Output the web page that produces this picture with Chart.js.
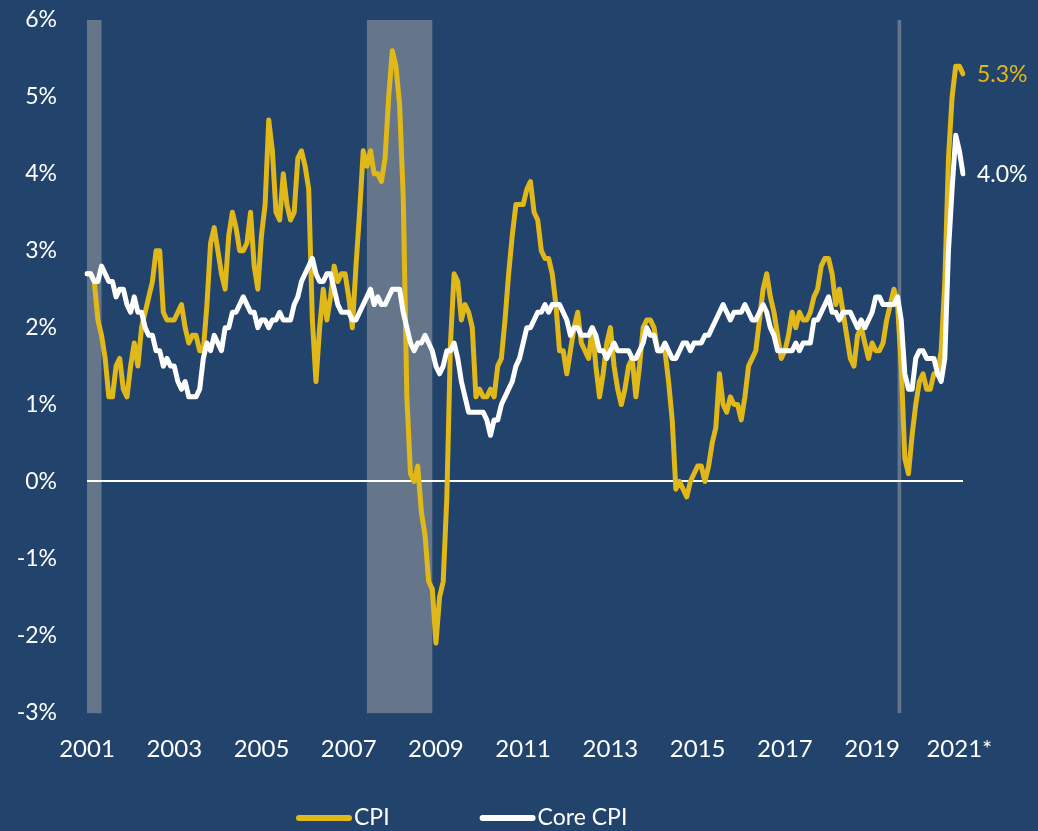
<!DOCTYPE html>
<html>
<head>
<meta charset="utf-8">
<script src="https://cdn.jsdelivr.net/npm/chart.js@4"></script>
<style>
  html, body { margin: 0; padding: 0; background: #22436B; }
  canvas { display: block; }
</style>
</head>
<body>
<canvas id="chart" width="1038" height="831"></canvas>
<script>
// monthly year-over-year change, Jul 2001 .. Aug 2021
const START_YEAR = 2001, START_MONTH = 7;

const cpi = [
  2.7, 2.7, 2.6, 2.1, 1.9, 1.6,
  1.1, 1.1, 1.5, 1.6, 1.2, 1.1, 1.5, 1.8, 1.5, 2.0, 2.2, 2.4,
  2.6, 3.0, 3.0, 2.2, 2.1, 2.1, 2.1, 2.2, 2.3, 2.0, 1.8, 1.9,
  1.9, 1.7, 1.7, 2.3, 3.1, 3.3, 3.0, 2.7, 2.5, 3.2, 3.5, 3.3,
  3.0, 3.0, 3.1, 3.5, 2.8, 2.5, 3.2, 3.6, 4.7, 4.3, 3.5, 3.4,
  4.0, 3.6, 3.4, 3.5, 4.2, 4.3, 4.1, 3.8, 2.1, 1.3, 2.0, 2.5,
  2.1, 2.4, 2.8, 2.6, 2.7, 2.7, 2.4, 2.0, 2.8, 3.5, 4.3, 4.1,
  4.3, 4.0, 4.0, 3.9, 4.2, 5.0, 5.6, 5.4, 4.9, 3.7, 1.1, 0.1,
  0.0, 0.2, -0.4, -0.7, -1.3, -1.4, -2.1, -1.5, -1.3, -0.2, 1.8, 2.7,
  2.6, 2.1, 2.3, 2.2, 2.0, 1.1, 1.2, 1.1, 1.1, 1.2, 1.1, 1.5,
  1.6, 2.1, 2.7, 3.2, 3.6, 3.6, 3.6, 3.8, 3.9, 3.5, 3.4, 3.0,
  2.9, 2.9, 2.7, 2.3, 1.7, 1.7, 1.4, 1.7, 2.0, 2.2, 1.8, 1.7,
  1.6, 2.0, 1.5, 1.1, 1.4, 1.8, 2.0, 1.5, 1.2, 1.0, 1.2, 1.5,
  1.6, 1.1, 1.5, 2.0, 2.1, 2.1, 2.0, 1.7, 1.7, 1.7, 1.3, 0.8,
  -0.1, 0.0, -0.1, -0.2, 0.0, 0.1, 0.2, 0.2, 0.0, 0.2, 0.5, 0.7,
  1.4, 1.0, 0.9, 1.1, 1.0, 1.0, 0.8, 1.1, 1.5, 1.6, 1.7, 2.1,
  2.5, 2.7, 2.4, 2.2, 1.9, 1.6, 1.7, 1.9, 2.2, 2.0, 2.2, 2.1,
  2.1, 2.2, 2.4, 2.5, 2.8, 2.9, 2.9, 2.7, 2.3, 2.5, 2.2, 1.9,
  1.6, 1.5, 1.9, 2.0, 1.8, 1.6, 1.8, 1.7, 1.7, 1.8, 2.1, 2.3,
  2.5, 2.3, 1.5, 0.3, 0.1, 0.6, 1.0, 1.3, 1.4, 1.2, 1.2, 1.4,
  1.4, 1.7, 2.6, 4.2, 5.0, 5.4, 5.4, 5.3
];

const coreCpi = [
  2.7, 2.7, 2.6, 2.6, 2.8, 2.7,
  2.6, 2.6, 2.4, 2.5, 2.5, 2.3, 2.2, 2.4, 2.2, 2.2, 2.0, 1.9,
  1.9, 1.7, 1.7, 1.5, 1.6, 1.5, 1.5, 1.3, 1.2, 1.3, 1.1, 1.1,
  1.1, 1.2, 1.6, 1.8, 1.7, 1.9, 1.8, 1.7, 2.0, 2.0, 2.2, 2.2,
  2.3, 2.4, 2.3, 2.2, 2.2, 2.0, 2.1, 2.1, 2.0, 2.1, 2.1, 2.2,
  2.1, 2.1, 2.1, 2.3, 2.4, 2.6, 2.7, 2.8, 2.9, 2.7, 2.6, 2.6,
  2.7, 2.7, 2.5, 2.3, 2.2, 2.2, 2.2, 2.1, 2.1, 2.2, 2.3, 2.4,
  2.5, 2.3, 2.4, 2.3, 2.3, 2.4, 2.5, 2.5, 2.5, 2.2, 2.0, 1.8,
  1.7, 1.8, 1.8, 1.9, 1.8, 1.7, 1.5, 1.4, 1.5, 1.7, 1.7, 1.8,
  1.6, 1.3, 1.1, 0.9, 0.9, 0.9, 0.9, 0.9, 0.8, 0.6, 0.8, 0.8,
  1.0, 1.1, 1.2, 1.3, 1.5, 1.6, 1.8, 2.0, 2.0, 2.1, 2.2, 2.2,
  2.3, 2.2, 2.3, 2.3, 2.3, 2.2, 2.1, 1.9, 2.0, 2.0, 1.9, 1.9,
  1.9, 2.0, 1.9, 1.7, 1.7, 1.6, 1.7, 1.8, 1.7, 1.7, 1.7, 1.7,
  1.6, 1.6, 1.7, 1.8, 2.0, 1.9, 1.9, 1.7, 1.7, 1.8, 1.7, 1.6,
  1.6, 1.7, 1.8, 1.8, 1.7, 1.8, 1.8, 1.8, 1.9, 1.9, 2.0, 2.1,
  2.2, 2.3, 2.2, 2.1, 2.2, 2.2, 2.2, 2.3, 2.2, 2.1, 2.1, 2.2,
  2.3, 2.2, 2.0, 1.9, 1.7, 1.7, 1.7, 1.7, 1.7, 1.8, 1.7, 1.8,
  1.8, 1.8, 2.1, 2.1, 2.2, 2.3, 2.4, 2.2, 2.2, 2.1, 2.2, 2.2,
  2.2, 2.1, 2.0, 2.1, 2.0, 2.1, 2.2, 2.4, 2.4, 2.3, 2.3, 2.3,
  2.3, 2.4, 2.1, 1.4, 1.2, 1.2, 1.6, 1.7, 1.7, 1.6, 1.6, 1.6,
  1.4, 1.3, 1.6, 3.0, 3.8, 4.5, 4.3, 4.0
];

// one label every 24 months
const yearTicks = ["2001", "2003", "2005", "2007", "2009", "2011",
                   "2013", "2015", "2017", "2019", "2021*"];

// recession periods (first month, last month)
const recessions = [
  ["2001-07", "2001-11"],
  ["2007-12", "2009-06"],
  ["2020-02", "2020-03"],
];

const months = cpi.map((_, i) => {
  const m = START_MONTH - 1 + i;
  const y = START_YEAR + Math.floor(m / 12);
  return y + "-" + String((m % 12) + 1).padStart(2, "0");
});

const FONT = "Lato, 'Open Sans', sans-serif";
const BG = "#22436B";
const GOLD = "#E0B81A";
const WHITE = "#FFFFFF";

/* ── plugins ── */
const bandsPlugin = {
  id: "bands",
  beforeDraw(chart) {
    const { ctx, chartArea, scales } = chart;
    ctx.save();
    ctx.fillStyle = BG;
    ctx.fillRect(0, 0, chart.width, chart.height);
    ctx.fillStyle = "#65768B";
    recessions.forEach(([a, b]) => {
      const x0 = scales.x.getPixelForValue(months.indexOf(a));
      const x1 = scales.x.getPixelForValue(months.indexOf(b));
      ctx.fillRect(x0, chartArea.top, x1 - x0, chartArea.bottom - chartArea.top + 1);
    });
    ctx.restore();
  },
};

const endLabels = {
  id: "endLabels",
  afterDatasetsDraw(chart) {
    const { ctx } = chart;
    ctx.save();
    ctx.font = "23px " + FONT;
    ctx.textBaseline = "middle";
    ctx.textAlign = "left";
    chart.data.datasets.forEach((ds, i) => {
      const pts = chart.getDatasetMeta(i).data;
      const p = pts[pts.length - 1];
      ctx.fillStyle = ds.borderColor;
      ctx.fillText(ds.data[ds.data.length - 1].toFixed(1) + "%", p.x + 14, p.y + 1);
    });
    ctx.restore();
  },
};

const lineLegend = {
  id: "lineLegend",
  afterDraw(chart, args, opts) {
    const { ctx } = chart;
    ctx.save();
    ctx.font = "23px " + FONT;
    ctx.textBaseline = "middle";
    ctx.textAlign = "left";
    let x = opts.x;
    chart.data.datasets.forEach((ds) => {
      ctx.strokeStyle = ds.borderColor;
      ctx.lineWidth = 6;
      ctx.lineCap = "round";
      ctx.beginPath();
      ctx.moveTo(x + 3, opts.y);
      ctx.lineTo(x + 53, opts.y);
      ctx.stroke();
      x += 58;
      ctx.fillStyle = WHITE;
      ctx.fillText(ds.label, x, opts.y);
      x += ctx.measureText(ds.label).width + opts.gap;
    });
    ctx.restore();
  },
};

new Chart(document.getElementById("chart"), {
  type: "line",
  data: {
    labels: months,
    datasets: [
      { label: "CPI", data: cpi, borderColor: GOLD, backgroundColor: GOLD, order: 2 },
      { label: "Core CPI", data: coreCpi, borderColor: WHITE, backgroundColor: WHITE, order: 1 },
    ],
  },
  options: {
    responsive: false,
    animation: false,
    layout: { padding: { top: 20, right: 75, left: 0, bottom: 44 } },
    elements: {
      point: { radius: 0 },
      line: { borderWidth: 5, tension: 0, borderJoinStyle: "round", borderCapStyle: "round" },
    },
    scales: {
      x: {
        type: "category",
        offset: false,
        grid: { display: false, drawTicks: false },
        border: { display: false },
        ticks: {
          autoSkip: false,
          maxRotation: 0,
          padding: 23,
          color: WHITE,
          font: { family: FONT, size: 24 },
          callback: (v, i) => (i % 24 === 0 ? yearTicks[i / 24] : null),
        },
      },
      y: {
        min: -3,
        max: 6,
        afterFit: (s) => { s.width = 87; s.paddingTop = 0; s.paddingBottom = 0; },
        grid: {
          drawTicks: false,
          lineWidth: 2,
          color: (c) => (c.tick && c.tick.value === 0 ? WHITE : "rgba(0,0,0,0)"),
        },
        border: { display: false },
        ticks: {
          stepSize: 1,
          padding: 30,
          color: WHITE,
          font: { family: FONT, size: 23 },
          callback: (v) => v + "%",
        },
      },
    },
    plugins: {
      legend: { display: false },
      tooltip: { enabled: false },
      lineLegend: { x: 296, y: 818, gap: 90 },
    },
  },
  plugins: [bandsPlugin, endLabels, lineLegend],
});
</script>
</body>
</html>
